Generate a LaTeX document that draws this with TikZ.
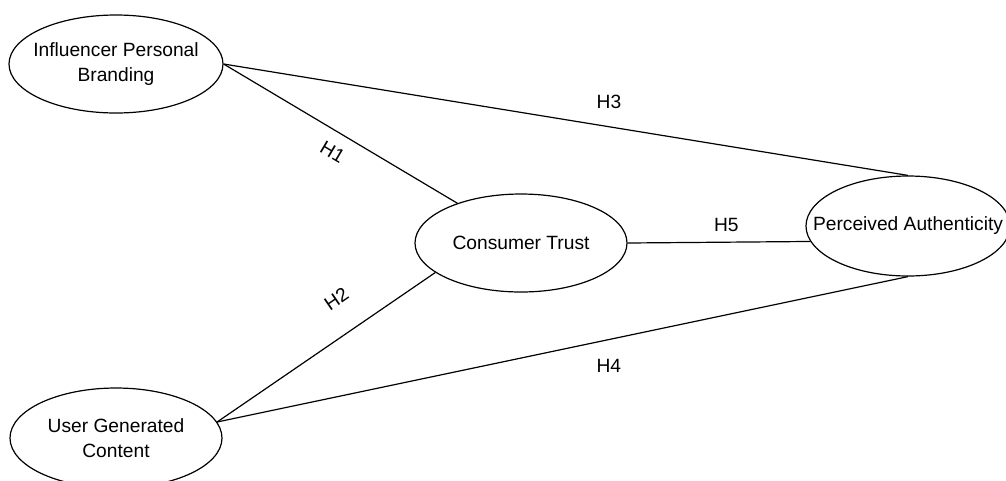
\documentclass[tikz,border=0pt]{standalone}
\usepackage{fontspec}
\setmainfont{Liberation Sans}
\usetikzlibrary{shapes.geometric,positioning}

\begin{document}
\begin{tikzpicture}[x=0.75pt, y=-0.75pt, every node/.style={font=\fontsize{14.4}{18.75}\selectfont},
		var/.style={ellipse, draw, line width=0.9pt, inner sep=0pt, minimum width=159pt, minimum height=73.5pt},
		hyp/.style={inner sep=1pt}]
				\useasboundingbox (0,0) rectangle (1006,480);
				\node[var, minimum width=160.5pt, label={[align=center]center:Influencer Personal\\Branding}] (ipb) at (116,64) {};
				\node[var, minimum height=75pt, label={[align=center]center:User Generated\\Content}] (ugc) at (116,438) {};
				\node[var, label=center:Consumer Trust] (ct) at (521,243) {};
				\node[var, minimum width=153pt, minimum height=75pt, label=center:Perceived Authenticity] (pa) at (908,226) {};
				
				\draw[line width=0.9pt] (ipb.east) -- node[hyp, pos=0.51, sloped, below=8.5pt] {H1} (ct.148);
				\draw[line width=0.9pt] (ugc.9) -- node[hyp, pos=0.634, sloped, above=18.9pt] {H2} (ct.199);
				\draw[line width=0.9pt] (ipb.east) -- node[hyp, pos=0.563, above=12.3pt] {H3} (pa.north);
				\draw[line width=0.9pt] (ugc.9) -- node[hyp, pos=0.567, below=13.2pt] {H4} (pa.south);
				\draw[line width=0.9pt] (ct.east) -- node[hyp, pos=0.54, above=6.6pt] {H5} (pa.189);
			\end{tikzpicture}
\end{document}
